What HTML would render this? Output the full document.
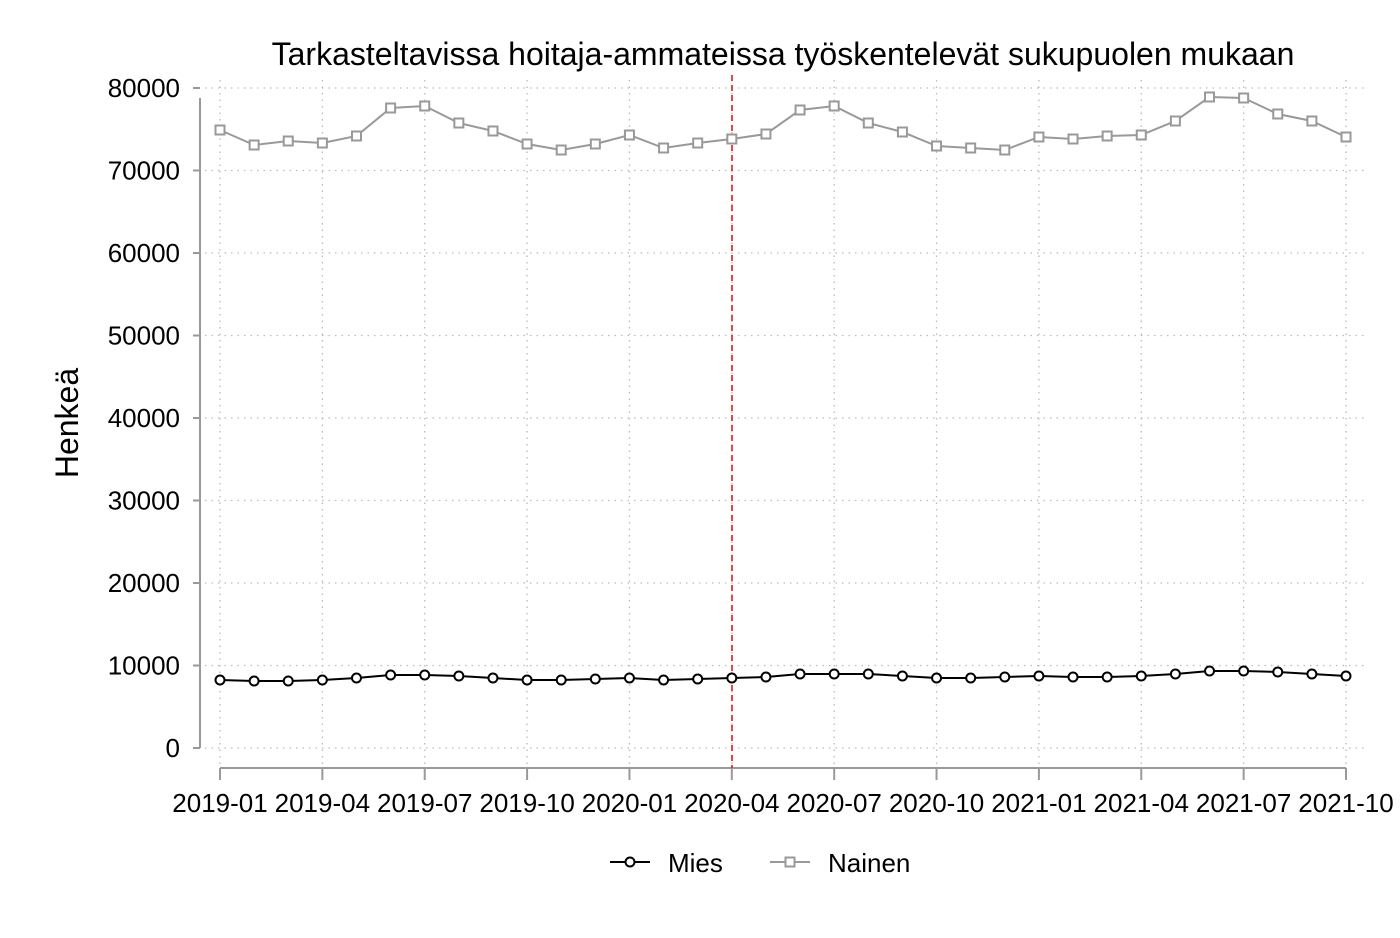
<!DOCTYPE html>
<html><head><meta charset="utf-8"><style>
body{margin:0;background:#fff}
svg text{font-family:"Liberation Sans",Arial,sans-serif;fill:#000}
</style></head><body>
<svg width="1400" height="933" xmlns="http://www.w3.org/2000/svg" id="c">
<text x="783" y="65" font-size="32" text-anchor="middle">Tarkasteltavissa hoitaja-ammateissa työskentelevät sukupuolen mukaan</text>
<text transform="translate(78,423) rotate(-90)" font-size="32" text-anchor="middle">Henkeä</text>
<g id="grid" stroke="#bbb" stroke-width="1.3" stroke-dasharray="1.5,5"></g>
<line x1="200" y1="98" x2="200" y2="748" stroke="#999" stroke-width="2"/>
<line x1="220" y1="768" x2="1346" y2="768" stroke="#999" stroke-width="2"/>
<g id="yt" font-size="26"></g>
<g id="xt" font-size="26"></g>
<line x1="732" y1="75" x2="732" y2="768" stroke="#e31a1c" stroke-width="1.6" stroke-dasharray="6,4"/>
<g id="series"></g>
<line x1="610" y1="862" x2="650" y2="862" stroke="#000" stroke-width="2"/>
<circle cx="630" cy="862" r="4.5" fill="#fff" stroke="#000" stroke-width="2"/>
<text x="668" y="872" font-size="26">Mies</text>
<line x1="770" y1="862" x2="810" y2="862" stroke="#999" stroke-width="2"/>
<rect x="785.5" y="857.5" width="9" height="9" fill="#fff" stroke="#999" stroke-width="2"/>
<text x="828" y="872" font-size="26">Nainen</text>
</svg>
<script>
const NS="http://www.w3.org/2000/svg";
function el(t,a,p){const e=document.createElementNS(NS,t);for(const k in a)e.setAttribute(k,a[k]);p.appendChild(e);return e;}
const g=document.getElementById('grid'),yt=document.getElementById('yt'),xt=document.getElementById('xt'),s=document.getElementById('series');
const X=i=>220+i*(1126/33);
for(let k=0;k<=8;k++){const y=748-k*82.5;
 el('line',{x1:205,y1:y,x2:1366,y2:y},g);
 el('line',{x1:193,y1:y,x2:200,y2:y,stroke:'#999','stroke-width':2},yt);
 const t=el('text',{x:180,y:y+9,'text-anchor':'end'},yt);t.textContent=k*10000;}
const labs=["2019-01","2019-04","2019-07","2019-10","2020-01","2020-04","2020-07","2020-10","2021-01","2021-04","2021-07","2021-10"];
labs.forEach((l,i)=>{const x=X(i*3);
 el('line',{x1:x,y1:80,x2:x,y2:765},g);
 el('line',{x1:x,y1:768,x2:x,y2:780,stroke:'#999','stroke-width':2},xt);
 const t=el('text',{x:x,y:812,'text-anchor':'middle'},xt);t.textContent=l;});
const n=[130,145,141,143,136,108,106,123,131,144,150,144,135,148,143,139,134,110,106,123,132,146,148,150,137,139,136,135,121,97,98,114,121,137];
const m=[680,681,681,680,678,675,675,676,678,680,680,679,678,680,679,678,677,674,674,674,676,678,678,677,676,677,677,676,674,671,671,672,674,676];
el('polyline',{points:n.map((y,i)=>X(i)+','+y).join(' '),fill:'none',stroke:'#999','stroke-width':2},s);
n.forEach((y,i)=>el('rect',{x:X(i)-4.5,y:y-4.5,width:9,height:9,fill:'#fff',stroke:'#999','stroke-width':2},s));
el('polyline',{points:m.map((y,i)=>X(i)+','+y).join(' '),fill:'none',stroke:'#000','stroke-width':2},s);
m.forEach((y,i)=>el('circle',{cx:X(i),cy:y,r:4.5,fill:'#fff',stroke:'#000','stroke-width':2},s));
</script>
</body></html>
